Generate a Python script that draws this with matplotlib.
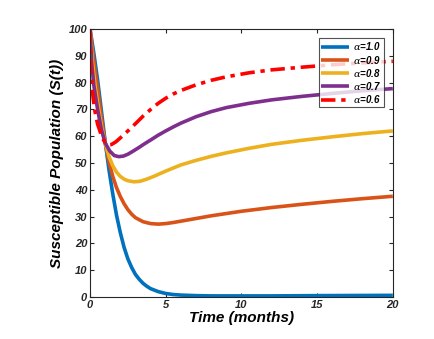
import matplotlib.pyplot as plt

plt.rcParams['font.family'] = ['Liberation Sans', 'DejaVu Sans']
plt.rcParams['mathtext.fontset'] = 'dejavuserif'

# readings (time in months, S(t))
t_a10 = [0, 0.25, 0.5, 0.75, 1.0, 1.25, 1.5, 1.75, 2.0, 2.25, 2.5, 2.75, 3.0, 3.25, 3.5, 3.75, 4.0, 4.5, 5.0, 5.5, 6.0, 7.0, 8.0, 10.0, 12.0, 15.0, 20.0]
s_a10 = [100, 91, 81, 69.5, 58, 47.5, 38.5, 30.5, 24, 18.5, 14.2, 11, 8.4, 6.6, 5.1, 4.0, 3.1, 2.0, 1.3, 0.9, 0.7, 0.5, 0.4, 0.4, 0.4, 0.5, 0.6]

t_a09 = [0, 0.25, 0.5, 0.75, 1.0, 1.25, 1.5, 1.75, 2.0, 2.25, 2.5, 2.75, 3.0, 3.5, 4.0, 4.5, 5.0, 5.5, 6.0, 7.0, 8.0, 10.0, 12.0, 14.0, 16.0, 18.0, 20.0]
s_a09 = [100, 88, 78, 67, 57.5, 50.5, 45, 40.8, 37.5, 34.8, 32.6, 30.9, 29.6, 28.1, 27.4, 27.2, 27.4, 27.8, 28.3, 29.3, 30.3, 32.0, 33.4, 34.6, 35.7, 36.7, 37.6]

t_a08 = [0, 0.15, 0.35, 0.6, 0.8, 1.0, 1.25, 1.5, 1.75, 2.0, 2.25, 2.5, 2.9, 3.3, 3.7, 4.2, 5.0, 6.0, 7.0, 8.0, 9.0, 10.5, 12.0, 14.0, 16.0, 18.0, 20.0]
s_a08 = [100, 88, 78, 69, 62.5, 57.5, 52.5, 49, 46.6, 45, 44, 43.4, 43, 43.2, 43.9, 45, 47, 49.3, 51, 52.5, 53.8, 55.5, 57, 58.5, 59.8, 61, 62]

t_a07 = [0, 0.1, 0.25, 0.5, 0.75, 1.0, 1.3, 1.6, 1.9, 2.2, 2.5, 2.8, 3.2, 3.6, 4.0, 4.5, 5.0, 5.5, 6.0, 7.0, 8.0, 9.0, 10.5, 12.0, 14.0, 16.0, 18.0, 20.0]
s_a07 = [100, 88, 79, 70, 62.5, 57.5, 54.5, 52.8, 52.4, 52.6, 53.3, 54.3, 55.7, 57.2, 58.6, 60.4, 62, 63.5, 64.9, 67.3, 69.2, 70.7, 72.3, 73.6, 74.9, 76, 77, 77.8]

t_a06 = [0, 0.05, 0.15, 0.3, 0.5, 0.8, 1.0, 1.2, 1.4, 1.7, 2.0, 2.5, 3.0, 3.5, 4.0, 4.5, 5.0, 5.5, 6.0, 7.0, 8.0, 9.0, 10.5, 12.0, 14.0, 16.0, 18.0, 20.0]
s_a06 = [100, 86, 77, 70, 64.5, 59.5, 57.6, 56.8, 56.9, 57.9, 59.4, 62, 64.7, 67.5, 70, 72.3, 74.2, 75.8, 77.1, 79.2, 80.9, 82.2, 83.7, 84.8, 85.8, 86.7, 87.4, 88]

series = [
    (t_a10, s_a10, r'$\alpha$=1.0', '#0072BD', '-'),
    (t_a09, s_a09, r'$\alpha$=0.9', '#D95319', '-'),
    (t_a08, s_a08, r'$\alpha$=0.8', '#EDB120', '-'),
    (t_a07, s_a07, r'$\alpha$=0.7', '#7E2F8E', '-'),
    (t_a06, s_a06, r'$\alpha$=0.6', '#FF0000', (0, (4, 1.6, 1.2, 1.6))),
]

fig = plt.figure(figsize=(4.35, 3.39), dpi=100)
ax = fig.add_axes([0.207, 0.124, 0.696, 0.790])

for t, s, lab, col, ls in series:
    ax.plot(t, s, color=col, lw=2.6, ls=ls, label=lab, solid_capstyle='butt')

ax.set_xlim(0, 20)
ax.set_ylim(0, 100)
ax.set_xticks([0, 5, 10, 15, 20])
ax.set_yticks(range(0, 101, 10))
ax.tick_params(direction='in', top=True, right=True, length=3, width=0.8,
               labelsize=8, pad=2, colors='#262626')
for lbl in ax.get_xticklabels() + ax.get_yticklabels():
    lbl.set_fontweight('bold')
    lbl.set_fontstyle('italic')
for sp in ax.spines.values():
    sp.set_color('#262626')
    sp.set_linewidth(0.8)

ax.set_xlabel('Time (months)', fontsize=11, fontweight='bold', fontstyle='italic', labelpad=1)
ax.set_ylabel('Susceptible Population (S(t))', fontsize=11, fontweight='bold', fontstyle='italic', labelpad=3)

leg = ax.legend(loc='upper right', fontsize=7, frameon=True, fancybox=False,
                borderpad=0.25, labelspacing=0.12, handlelength=2.8, handletextpad=0.5,
                borderaxespad=0.9)
leg.get_frame().set_edgecolor('#262626')
leg.get_frame().set_linewidth(0.8)
for txt in leg.get_texts():
    txt.set_fontweight('bold')
    txt.set_fontstyle('italic')

fig.savefig('out.png', dpi=100, facecolor='white')
